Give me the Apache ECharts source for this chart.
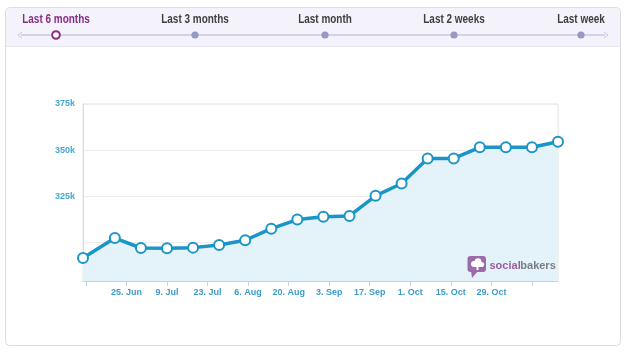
<!DOCTYPE html>
<html>
<head>
<meta charset="utf-8">
<script src="https://cdn.jsdelivr.net/npm/echarts@6/dist/echarts.min.js"></script>
<style>
html,body{margin:0;padding:0;background:#fff;}
#chart{width:630px;height:354px;}
</style>
</head>
<body>
<div id="chart"></div>
<script>
// ---- data ----
const dates = ['2012-06-10','2012-06-21','2012-06-30','2012-07-09','2012-07-18','2012-07-27','2012-08-05','2012-08-14','2012-08-23','2012-09-01','2012-09-10','2012-09-19','2012-09-28','2012-10-07','2012-10-16','2012-10-25','2012-11-03','2012-11-12','2012-11-21'];
const fans = [291500,302300,296900,296700,297100,298500,301100,307400,312300,313800,314300,325200,331900,345500,345500,351500,351500,351500,354500];
const xTicks = ['2012-06-11','2012-06-25','2012-07-09','2012-07-23','2012-08-06','2012-08-20','2012-09-03','2012-09-17','2012-10-01','2012-10-15','2012-10-29','2012-11-12'];
const xLabels = ['2012-06-25','2012-07-09','2012-07-23','2012-08-06','2012-08-20','2012-09-03','2012-09-17','2012-10-01','2012-10-15','2012-10-29'];
const yGrid = [300000,325000,350000,375000];
const yLabels = [325000,350000,375000];
const tabs = ['Last 6 months','Last 3 months','Last month','Last 2 weeks','Last week'];
const monthNames = ['Jan','Feb','Mar','Apr','May','Jun','Jul','Aug','Sep','Oct','Nov','Dec'];

function ts(s){const p=s.split('-').map(Number);return Date.UTC(p[0],p[1]-1,p[2]);}

const chart = echarts.init(document.getElementById('chart'), null, {renderer:'canvas'});

const tabX = [56,195,325,454,581];
const graphics = [];
graphics.push({type:'rect', z:-10, shape:{x:5.5,y:7.5,width:615,height:338,r:4}, style:{fill:'#fff',stroke:'#dcdce2',lineWidth:1}, silent:true});
graphics.push({type:'rect', z:-9, shape:{x:6,y:8,width:614,height:38,r:[4,4,0,0]}, style:{fill:'#f4f3fb'}, silent:true});
graphics.push({type:'line', z:-9, shape:{x1:6,y1:46.5,x2:620,y2:46.5}, style:{stroke:'#e6e5f2',lineWidth:1}, silent:true});
graphics.push({type:'line', z:1, shape:{x1:21,y1:35,x2:605,y2:35}, style:{stroke:'#c9c7e0',lineWidth:1.5}, silent:true});
graphics.push({type:'polyline', z:1, shape:{points:[[22,32],[18,35],[22,38]]}, style:{stroke:'#c9c7e0',lineWidth:1,fill:null}, silent:true});
graphics.push({type:'polyline', z:1, shape:{points:[[604,32],[608,35],[604,38]]}, style:{stroke:'#c9c7e0',lineWidth:1,fill:null}, silent:true});
tabs.forEach((t,i)=>{
  const active = i===0;
  graphics.push({type:'text', z:2, x:tabX[i], y:20, scaleX:0.83, scaleY:1, style:{text:t, fill: active?'#8a2d84':'#404040', font:'bold 12px "Liberation Sans", Arial, sans-serif', textAlign:'center', textVerticalAlign:'middle'}, silent:true});
  if(active){
    graphics.push({type:'circle', z:2, shape:{cx:tabX[i],cy:35,r:3.8}, style:{fill:'#fff',stroke:'#8a2d84',lineWidth:2}, silent:true});
  } else {
    graphics.push({type:'circle', z:2, shape:{cx:tabX[i],cy:35,r:3.6}, style:{fill:'#9599c4'}, silent:true});
  }
});
// logo
const L = 100;
graphics.push({type:'rect', z:L, shape:{x:467.5,y:256,width:18.5,height:16,r:3}, style:{fill:'#9c6aa8'}, silent:true});
graphics.push({type:'polygon', z:L, shape:{points:[[471,271],[478,271],[472,278]]}, style:{fill:'#9c6aa8'}, silent:true});
graphics.push({type:'circle', z:L+1, shape:{cx:474,cy:264,r:3}, style:{fill:'#fff'}, silent:true});
graphics.push({type:'circle', z:L+1, shape:{cx:478,cy:261.5,r:3.3}, style:{fill:'#fff'}, silent:true});
graphics.push({type:'circle', z:L+1, shape:{cx:481.5,cy:264.5,r:2.6}, style:{fill:'#fff'}, silent:true});
graphics.push({type:'rect', z:L+1, shape:{x:473,y:264,width:9,height:3}, style:{fill:'#fff'}, silent:true});
graphics.push({type:'rect', z:L+1, shape:{x:476.5,y:266,width:2,height:4}, style:{fill:'#fff'}, silent:true});
graphics.push({type:'text', z:L, x:489.5, y:265.5, style:{text:'social', fill:'#9a5c9c', font:'bold 11px "Liberation Sans", Arial, sans-serif', textVerticalAlign:'middle'}, silent:true});
graphics.push({type:'text', z:L, x:520.3, y:265.5, style:{text:'bakers', fill:'#7c7c84', font:'bold 11px "Liberation Sans", Arial, sans-serif', textVerticalAlign:'middle'}, silent:true});

const option = {
  animation:false,
  backgroundColor:'transparent',
  grid:{left:83, right:72, top:104, bottom:73, show:true, borderColor:'#e2e2e2', borderWidth:1, backgroundColor:'transparent'},
  xAxis:{
    type:'value',
    min:ts(dates[0]), max:ts(dates[dates.length-1]),
    axisLine:{show:true, lineStyle:{color:'#c8d2dc', width:1}},
    axisTick:{show:true, customValues:xTicks.map(ts), length:5, lineStyle:{color:'#c8d2dc'}},
    axisLabel:{customValues:xLabels.map(ts), color:'#3a9dcc', fontSize:9, fontWeight:'bold', fontFamily:'"Liberation Sans", Arial, sans-serif', margin:7,
      formatter:function(v){const d=new Date(v);return d.getUTCDate()+'. '+monthNames[d.getUTCMonth()];}},
    splitLine:{show:false}
  },
  yAxis:{
    type:'value',
    min:279000, max:375000,
    axisLine:{show:true, lineStyle:{color:'#dcdcdc'}},
    axisTick:{show:false, customValues:yGrid},
    axisLabel:{customValues:yLabels, color:'#45a9d2', fontSize:9, fontWeight:'bold', fontFamily:'"Liberation Sans", Arial, sans-serif', margin:8,
      formatter:function(v){return Math.round(v/1000)+'k';}},
    splitLine:{show:true, lineStyle:{color:'#ececec', width:1}}
  },
  series:[{
    type:'line',
    data:dates.map((d,i)=>[ts(d),fans[i]]),
    symbol:'circle', symbolSize:10,
    showAllSymbol:true,
    lineStyle:{color:'#1b95c8', width:3.5},
    itemStyle:{color:'#fff', borderColor:'#1b95c8', borderWidth:2},
    areaStyle:{color:'#e4f2f9', opacity:1},
    z:3
  }],
  graphic:graphics
};
chart.setOption(option);
</script>
</body>
</html>
